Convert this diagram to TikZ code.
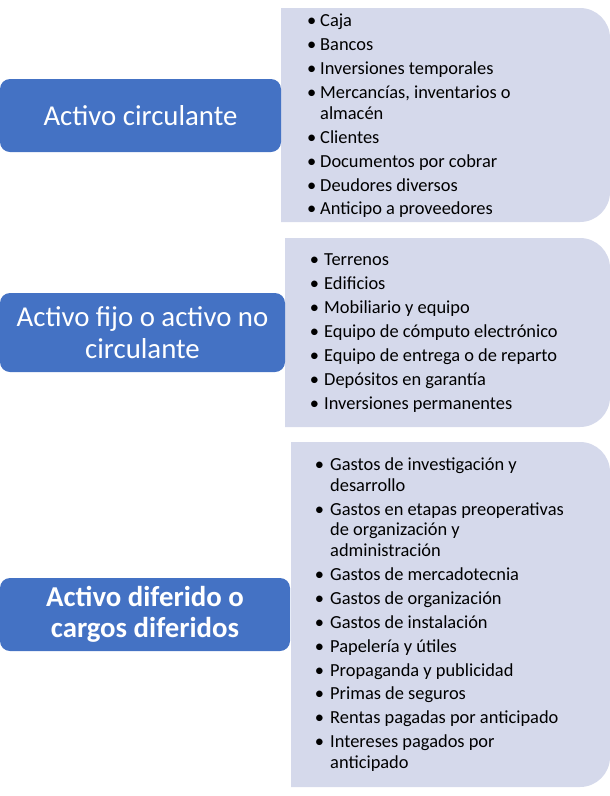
\documentclass[tikz,border=0pt]{standalone}
\usepackage{fontspec}
\setmainfont{Carlito}
\usepackage{tikz}
\definecolor{headblue}{RGB}{68,114,196}
\definecolor{listfill}{RGB}{213,217,235}
\tikzset{headbox/.style={fill=headblue, rounded corners=10pt, text=white, align=center, inner sep=0pt, font=\fontsize{28.8}{32}\selectfont}}
\tikzset{item/.style={anchor=base west, inner sep=0pt, font=\fontsize{18.4}{21}\selectfont}}
\tikzset{dot/.style={anchor=base, inner sep=0pt, font=\fontsize{18.4}{21}\selectfont}}

\begin{document}
\begin{tikzpicture}[x=1pt,y=-1pt]
\useasboundingbox (0,0) rectangle (610,796);
% right panels, rounded on the right only
\fill[listfill] (281,8) -- (580,8) arc[start angle=90,end angle=0,radius=30pt] -- (610,192) arc[start angle=0,end angle=-90,radius=30pt] -- (281,222) -- cycle;
\fill[listfill] (285,238) -- (580,238) arc[start angle=90,end angle=0,radius=30pt] -- (610,397) arc[start angle=0,end angle=-90,radius=30pt] -- (285,427) -- cycle;
\fill[listfill] (291,442) -- (580,442) arc[start angle=90,end angle=0,radius=30pt] -- (610,757) arc[start angle=0,end angle=-90,radius=30pt] -- (291,787) -- cycle;
% headings
\node[headbox, minimum width=281pt, minimum height=73pt] (circ) at (140.5,115.5) {Activo circulante};
\node[headbox, minimum width=285pt, minimum height=79pt] (fijo) at (142.5,332.5) {Activo fijo o activo no\\circulante};
\node[headbox, minimum width=290pt, minimum height=73pt, font=\fontsize{28.8}{31}\selectfont\bfseries] (dif) at (145,614.5) {Activo diferido o\\cargos diferidos};
% lists
\foreach \b/\y/\t [count=\i] in {1/26/Caja, 1/50/Bancos, 1/74/Inversiones temporales,
  1/98/{Mercancías, inventarios o}, 0/119/almacén, 1/143/Clientes,
  1/167/Documentos por cobrar, 1/191/Deudores diversos, 1/214/Anticipo a proveedores}{
  \node[item] (c\i) at (320,\y) {\t};
  \ifnum\b=1 \node[dot] (cb\i) at (311.7,\y) {•}; \fi
}
\foreach \b/\y/\t [count=\i] in {1/265/Terrenos, 1/289/Edificios, 1/313/Mobiliario y equipo,
  1/337/Equipo de cómputo electrónico, 1/361/Equipo de entrega o de reparto,
  1/385/Depósitos en garantía, 1/409/Inversiones permanentes}{
  \node[item] (f\i) at (324,\y) {\t};
  \ifnum\b=1 \node[dot] (fb\i) at (314.5,\y) {•}; \fi
}
\foreach \b/\y/\t [count=\i] in {1/470/Gastos de investigación y, 0/491/desarrollo,
  1/515/Gastos en etapas preoperativas, 0/535/de organización y, 0/556/administración,
  1/580/Gastos de mercadotecnia, 1/604/Gastos de organización, 1/628/Gastos de instalación,
  1/652/Papelería y útiles, 1/676/Propaganda y publicidad, 1/699/Primas de seguros,
  1/723/Rentas pagadas por anticipado, 1/747/Intereses pagados por, 0/768/anticipado}{
  \node[item] (d\i) at (330,\y) {\t};
  \ifnum\b=1 \node[dot] (db\i) at (319.5,\y) {•}; \fi
}
\end{tikzpicture}
\end{document}
